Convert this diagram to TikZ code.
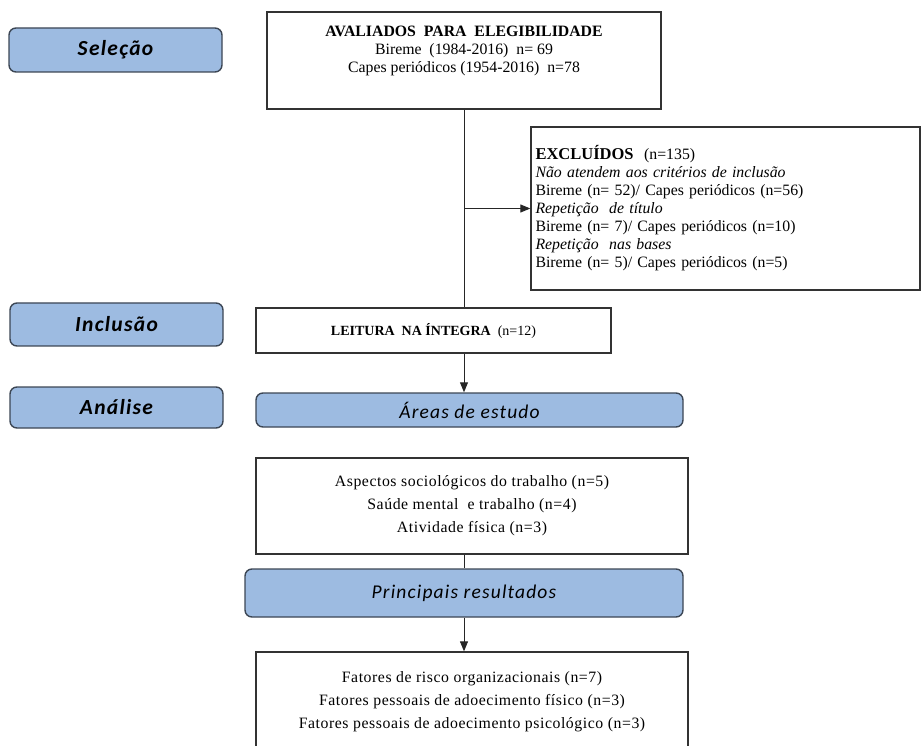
\documentclass[tikz,border=0pt]{standalone}
\usepackage{fontspec}
\setmainfont{Liberation Serif}
\newfontfamily\serifaberta[LetterSpace=3.5]{Liberation Serif}
\newfontfamily\calibri[LetterSpace=6]{Carlito}
\usetikzlibrary{arrows.meta}
\definecolor{fasefill}{HTML}{9DBBE1}
\definecolor{faseline}{HTML}{3C4654}
\begin{document}
\begin{tikzpicture}[x=1pt,y=-1pt,
  caixa/.style={draw=black!80,line width=1.3pt,fill=white,inner sep=0pt,align=center,font=\fontsize{15.8}{18}\selectfont},
  fase/.style={draw=faseline,line width=1.4pt,fill=fasefill,rounded corners=7pt,inner sep=0pt,font=\calibri\bfseries\itshape\fontsize{21.5}{24}\selectfont},
  etapa/.style={fase,font=\calibri\itshape\fontsize{19.5}{22}\selectfont},
  lista/.style={caixa,font=\serifaberta\fontsize{15.8}{23}\selectfont},
  linha/.style={line width=1pt,draw=black!85},
  seta/.style={linha,-{Triangle[length=10pt,width=8pt]}}]
  \useasboundingbox (0,0) rectangle (922,746);
  \clip (0,0) rectangle (922,746);
  \node[fase,minimum width=213pt,minimum height=44pt] (selecao) at (115.5,50) {Seleção};
  \node[fase,minimum width=213pt,minimum height=43pt] (inclusao) at (116.5,324.5) {Inclusão};
  \node[fase,minimum width=213pt,minimum height=41pt] (analise) at (116.5,407.5) {Análise};
  \node[caixa,minimum width=394pt,minimum height=97pt,label={[anchor=north,yshift=-14pt,inner sep=0pt,align=center,font=\fontsize{15.8}{18}\selectfont]north:\textbf{AVALIADOS~~PARA~~ELEGIBILIDADE}\\Bireme~~(1984-2016)~~n= 69\\Capes periódicos (1954-2016)~~n=78}] (aval) at (464,60.5) {};
  \node[caixa,align=left,text width=380pt,minimum width=389pt,minimum height=163pt] (excl) at (725.5,208.5) {\textbf{\fontsize{16.5}{18}\selectfont EXCLUÍDOS}~~(n=135)\\\textit{Não atendem aos critérios de inclusão}\\Bireme (n= 52)/ Capes periódicos (n=56)\\\textit{Repetição~~de título}\\Bireme (n= 7)/ Capes periódicos (n=10)\\\textit{Repetição~~nas bases}\\Bireme (n= 5)/ Capes periódicos (n=5)};
  \node[caixa,minimum width=355pt,minimum height=45pt,font=\fontsize{14}{16}\selectfont] (leitura) at (433.5,330.5) {\textbf{LEITURA~~NA ÍNTEGRA}~~(n=12)};
  \node[etapa,minimum width=427pt,minimum height=34pt] (areas) at (469.5,410) {Áreas de estudo};
  \node[lista,minimum width=432pt,minimum height=96pt] (aspectos) at (472,506) {Aspectos sociológicos do trabalho (n=5)\\Saúde mental~ e trabalho (n=4)\\Atividade física (n=3)};
  \node[etapa,minimum width=438pt,minimum height=48pt] (principais) at (464,593) {Principais resultados};
  \node[lista,minimum width=432pt,minimum height=100pt] (fatores) at (472,702) {Fatores de risco organizacionais (n=7)\\Fatores pessoais de adoecimento físico (n=3)\\Fatores pessoais de adoecimento psicológico (n=3)};
  \draw[linha] (aval.south) -- (aval.south |- leitura.north);
  \coordinate (ramo) at (aval.south |- excl.west);
  \draw[seta] (ramo) -- (excl.west);
  \draw[seta] (aval.south |- leitura.south) -- (aval.south |- areas.north);
  \draw[linha] (principais.north |- aspectos.south) -- (principais.north);
  \draw[seta] (principais.south) -- (principais.south |- fatores.north);
\end{tikzpicture}
\end{document}
